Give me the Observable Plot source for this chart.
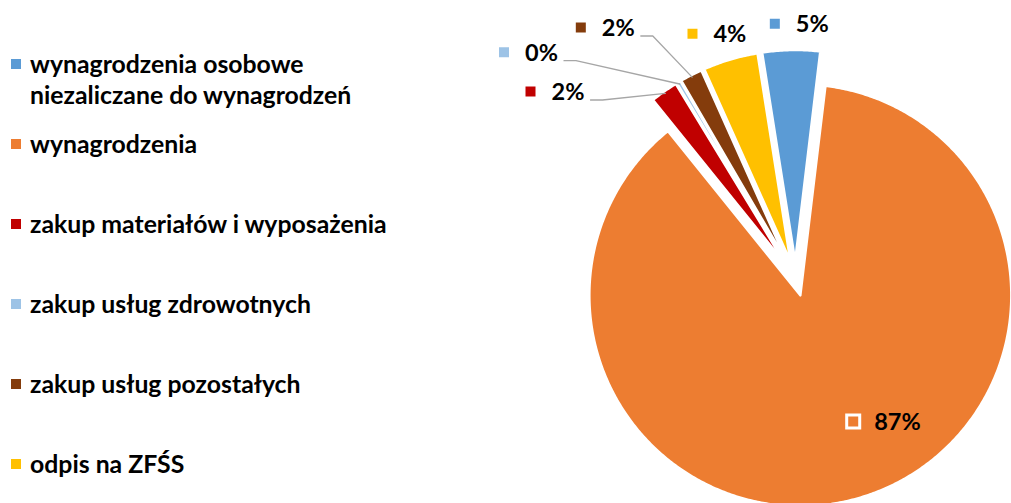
<!DOCTYPE html>
<html>
<head>
<meta charset="utf-8">
<script src="https://cdn.jsdelivr.net/npm/d3@7"></script>
<script src="https://cdn.jsdelivr.net/npm/@observablehq/plot@0.6"></script>
<style>
  html, body { margin: 0; padding: 0; background: #fff; }
  #wrap { position: relative; display: flex; width: 1011px; height: 503px; overflow: hidden;
          font-family: Lato, "Open Sans", sans-serif; font-weight: 700; color: #000; }
  #legend { width: 480px; flex: none; padding-top: 48px; box-sizing: border-box; }
  .item { position: relative; height: 80px; }
  .sw { position: absolute; left: 11px; top: 10.5px; width: 10px; height: 10px; }
  .txt { position: absolute; left: 30px; top: 0; font-size: 24.8px; line-height: 31px; white-space: pre; }
  #chart { flex: none; width: 531px; height: 503px; }
  #chart svg { display: block; overflow: visible; }
</style>
</head>
<body>
<div id="wrap">
  <div id="legend"></div>
  <div id="chart"></div>
</div>
<script>
// ---- data ----
const categories = [
  "wynagrodzenia osobowe\nniezaliczane do wynagrodzeń",
  "wynagrodzenia",
  "zakup materiałów i wyposażenia",
  "zakup usług zdrowotnych",
  "zakup usług pozostałych",
  "odpis na ZFŚS"
];
const shares = [4.4, 87.3, 2.1, 0.3, 1.7, 4.2];
const percentLabels = ["5%", "87%", "2%", "0%", "2%", "4%"];
const colors = ["#5B9BD5", "#ED7D31", "#C00000", "#9DC3E6", "#843C0C", "#FFC000"];

// ---- layout (radius units, y up) ----
const startDeg = -9;
const explode = 17.5 / 211;
const labelAnchor = [
  [-0.098, 1.207], [0.2735, -0.6777], [-1.2559, 0.8863],
  [-1.3815, 1.0725], [-1.0175, 1.1896], [-0.4882, 1.1597]
];
const hasLeader = [false, false, true, true, true, false];
const px = 1 / 211;

// legend
const legend = d3.select("#legend");
categories.forEach((c, i) => {
  const it = legend.append("div").attr("class", "item");
  it.append("div").attr("class", "sw").style("background", colors[i]);
  it.append("div").attr("class", "txt").text(c);
});

// pie geometry
const rows = categories.map((key, i) => ({key, share: shares[i], label: percentLabels[i], i}));
const pie = d3.pie().sort(null).value(d => d.share)
  .startAngle(startDeg * Math.PI / 180).endAngle((startDeg + 360) * Math.PI / 180);
const arcs = pie(rows);

const slicePts = [];
const leaderPts = [];
arcs.forEach(a => {
  const mid = (a.startAngle + a.endAngle) / 2;
  const cx = explode * Math.sin(mid), cy = explode * Math.cos(mid);
  slicePts.push({key: a.data.key, x: cx, y: cy});
  const n = Math.max(2, Math.ceil((a.endAngle - a.startAngle) / (Math.PI / 360)));
  for (let k = 0; k <= n; k++) {
    const t = a.startAngle + (a.endAngle - a.startAngle) * k / n;
    slicePts.push({key: a.data.key, x: cx + Math.sin(t), y: cy + Math.cos(t)});
  }
  const i = a.data.i;
  if (hasLeader[i]) {
    const [u, v] = labelAnchor[i];
    const sx = u + 60 * px, sy = v - 8.5 * px;
    leaderPts.push({key: a.data.key, x: sx, y: sy});
    leaderPts.push({key: a.data.key, x: sx + 12 * px, y: sy});
    leaderPts.push({key: a.data.key, x: cx + 0.99 * Math.sin(mid), y: cy + 0.99 * Math.cos(mid)});
  }
});
const labelRows = rows.map((r, i) => ({key: r.key, label: r.label, x: labelAnchor[i][0], y: labelAnchor[i][1]}));

const chart = Plot.plot({
  width: 531,
  height: 503,
  margin: 0,
  style: {background: "transparent", overflow: "visible"},
  x: {domain: [-1, 1], range: [315 - 211, 315 + 211], axis: null},
  y: {domain: [-1, 1], range: [278 + 211, 278 - 211], axis: null},
  color: {domain: categories, range: colors},
  marks: [
    Plot.line(slicePts, {x: "x", y: "y", z: "key", fill: "key", stroke: "white", strokeWidth: 2.5, curve: "linear-closed"}),
    Plot.line(leaderPts, {x: "x", y: "y", z: "key", stroke: "#A6A6A6", strokeWidth: 1.3}),
    Plot.dot(labelRows, {x: "x", y: "y", symbol: "square", r: 7.34, fill: "key", stroke: "white", strokeWidth: 3}),
    Plot.text(labelRows, {x: "x", y: "y", text: "label", dx: 21, dy: 1, textAnchor: "start",
      fontSize: 23.5, fontWeight: 700, fill: "black", fontFamily: "Lato, 'Open Sans', sans-serif"})
  ]
});
document.getElementById("chart").appendChild(chart);
</script>
</body>
</html>
